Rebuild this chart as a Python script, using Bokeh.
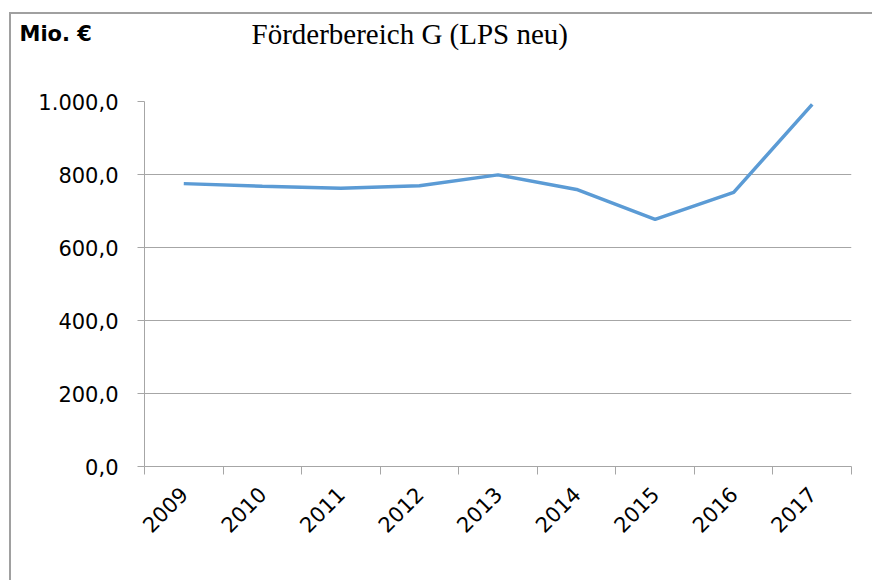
import math
from bokeh.plotting import figure
from bokeh.layouts import column
from bokeh.models import Range1d, FixedTicker, Label
from bokeh.embed import file_html
from bokeh.resources import INLINE

# ---- data ----
years = ["2009", "2010", "2011", "2012", "2013", "2014", "2015", "2016", "2017"]
values = [775, 768, 762, 769, 799, 759, 677, 751, 992]
y_ticks = [0, 200, 400, 600, 800, 1000]
unit_label = "Mio. €"
title_text = "Förderbereich G (LPS neu)"


def de_fmt(v):
    s = f"{v:,.1f}"
    return s.replace(",", "X").replace(".", ",").replace("X", ".")


GRAY = "#a6a6a6"
LINE = "#5b9bd5"
SANS = "DejaVu Sans"
W = 861
HEAD_H = 60

idx = list(range(len(years)))                       # category centres
edges = [i - 0.5 for i in range(len(years) + 1)]    # category boundaries

# ---- header strip carrying the unit label and the title ----
head = figure(width=W, height=HEAD_H, x_range=Range1d(0, 1), y_range=Range1d(0, 1),
              output_backend="svg", toolbar_location=None,
              x_axis_type=None, y_axis_type=None, min_border=0)
head.frame_align = False
head.outline_line_color = None
head.xgrid.grid_line_color = None
head.ygrid.grid_line_color = None
head.background_fill_color = "white"
head.border_fill_color = "white"
head.add_layout(Label(x=8, y=41, x_units="screen", y_units="screen",
                      text=unit_label, text_font=SANS, text_font_style="bold",
                      text_font_size="21px", text_baseline="alphabetic",
                      text_color="black"))
head.add_layout(Label(x=240, y=41, x_units="screen", y_units="screen",
                      text=title_text, text_font="Liberation Serif",
                      text_font_size="29px", text_baseline="alphabetic",
                      text_color="black"))

# ---- main chart ----
p = figure(x_range=Range1d(-0.5, len(years) - 0.5), y_range=Range1d(0, 1000),
           width=W, height=566 - HEAD_H, output_backend="svg", toolbar_location=None)
p.frame_align = False
p.min_border_left = 133
p.min_border_top = 27
p.min_border_right = 21
p.min_border_bottom = 114
p.outline_line_color = None
p.background_fill_color = "white"
p.border_fill_color = "white"

# y axis
ya = p.yaxis[0]
ya.ticker = FixedTicker(ticks=y_ticks)
ya.major_label_overrides = {t: de_fmt(t) for t in y_ticks}
ya.major_tick_out = 7
ya.major_tick_in = 0
ya.minor_tick_line_color = None
ya.axis_line_color = GRAY
ya.major_tick_line_color = GRAY
ya.major_label_standoff = 19
ya.major_label_text_font = SANS
ya.major_label_text_font_size = "21px"
ya.major_label_text_color = "black"

p.ygrid.ticker = FixedTicker(ticks=y_ticks)
p.ygrid.grid_line_color = GRAY
p.xgrid.grid_line_color = None

# x axis: labels at category centres, tick marks at boundaries
xa = p.xaxis[0]
xa.ticker = FixedTicker(ticks=idx, minor_ticks=edges)
xa.major_label_overrides = {i: y for i, y in zip(idx, years)}
xa.major_tick_line_color = None
xa.major_tick_out = 8
xa.major_tick_in = 0
xa.minor_tick_line_color = GRAY
xa.minor_tick_out = 8
xa.minor_tick_in = 0
xa.axis_line_color = GRAY
xa.major_label_orientation = math.pi / 4
xa.major_label_standoff = 16
xa.major_label_text_font = SANS
xa.major_label_text_font_size = "21px"
xa.major_label_text_color = "black"

# series
p.line(x=idx, y=values, line_color=LINE, line_width=3.5)

layout = column(head, p, spacing=0)
layout.margin = (12, 0, 0, 9)
layout.styles = {"border-left": "2px solid #a0a0a0", "border-top": "2px solid #a0a0a0"}

open("out.html", "w").write(file_html(layout, INLINE))
